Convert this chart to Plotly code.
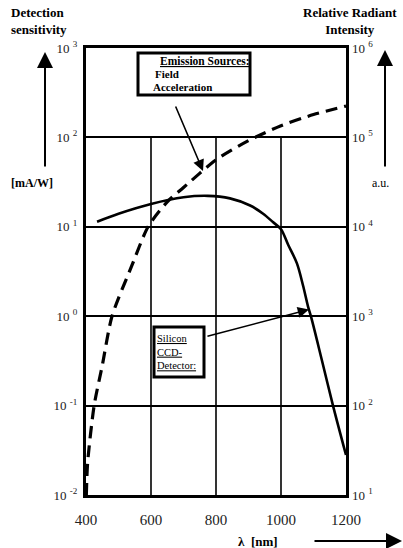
import numpy as np
import plotly.graph_objects as go

# Silicon CCD detector sensitivity [mA/W] vs wavelength [nm]
ccd_wavelength = [434, 500, 600, 700, 775, 843, 905, 945, 975, 1000, 1022, 1049, 1068, 1083,
                  1092, 1126, 1160, 1200]
ccd_sensitivity = [11.4, 14.0, 18.0, 21.4, 22.2, 20.8, 17.3, 14.0, 11.3, 9.4, 6.3, 3.9, 2.19,
                   1.29, 1.0, 0.32, 0.1, 0.028]

# Field-acceleration emission source, relative radiant intensity [a.u.]
emission_wavelength = [401, 405, 425, 450, 480, 540, 591, 650, 700, 800, 900, 1000, 1100, 1200]
emission_intensity = [10, 23, 100, 280, 1000, 3600, 10000, 19000, 27500, 56000, 92000, 135000, 180000, 224000]

# Axis ticks
x_ticks = [400, 600, 800, 1000, 1200]
left_ticks = [1e-2, 1e-1, 1e0, 1e1, 1e2, 1e3]
left_tick_text = ["10 <sup>-2</sup>", "10 <sup>-1</sup>", "10 <sup>0</sup>",
                  "10 <sup>1</sup>", "10 <sup>2</sup>", "10 <sup>3</sup>"]
right_ticks = [1e1, 1e2, 1e3, 1e4, 1e5, 1e6]
right_tick_text = ["10 <sup>1</sup>", "10 <sup>2</sup>", "10 <sup>3</sup>",
                   "10 <sup>4</sup>", "10 <sup>5</sup>", "10 <sup>6</sup>"]

SERIF = "Liberation Serif, Times New Roman, serif"
W, H = 403, 548
PL, PR, PT, PB = 86, 346, 48, 495


def px(x):
    return (x - PL) / (PR - PL)


def py(y):
    return (PB - y) / (PB - PT)


fig = go.Figure()

# vertical grid lines only span the lower part of the frame (10^-2 .. 10^2)
for xv in x_ticks[1:-1]:
    fig.add_trace(go.Scatter(x=[xv, xv], y=[left_ticks[0], left_ticks[-2]], mode="lines",
                             line=dict(color="black", width=1.6), hoverinfo="skip",
                             showlegend=False))

fig.add_trace(go.Scatter(x=ccd_wavelength, y=ccd_sensitivity, mode="lines",
                         line=dict(color="black", width=2.6, shape="spline", smoothing=0.9),
                         showlegend=False, name="Silicon CCD-Detector"))

fig.add_trace(go.Scatter(x=emission_wavelength, y=emission_intensity, mode="lines",
                         line=dict(color="black", width=3.2, dash="12px,7px",
                                   shape="spline", smoothing=0.7),
                         yaxis="y2", showlegend=False, name="Field Acceleration"))

fig.update_layout(
    width=W, height=H,
    margin=dict(l=PL, r=W - PR, t=PT, b=H - PB),
    paper_bgcolor="white", plot_bgcolor="white",
    font=dict(family=SERIF, color="#222222", size=13),
    xaxis=dict(range=[400, 1200], tickvals=x_ticks, showgrid=False, zeroline=False,
               showline=True, mirror=True, linewidth=3, linecolor="black",
               ticks="outside", ticklen=9, tickcolor="rgba(0,0,0,0)",
               tickfont=dict(size=15, family=SERIF, color="#222222")),
    yaxis=dict(type="log", range=[-2, 3], tickvals=left_ticks, ticktext=left_tick_text,
               showgrid=True, gridcolor="black", gridwidth=1.6, zeroline=False,
               showline=True, mirror=True, linewidth=3, linecolor="black",
               ticks="", ticklabelstandoff=3,
               tickfont=dict(size=13, family=SERIF, color="#222222")),
    yaxis2=dict(type="log", range=[1, 6], tickvals=right_ticks, ticktext=right_tick_text,
                overlaying="y", side="right", showgrid=False, zeroline=False,
                showline=False, ticks="", ticklabelstandoff=5,
                tickfont=dict(size=13, family=SERIF, color="#222222")),
)

shapes = []
annotations = []

# text boxes
shapes.append(dict(type="rect", xref="paper", yref="paper",
                   x0=px(138), x1=px(250), y0=py(95), y1=py(53),
                   line=dict(color="black", width=3), fillcolor="white"))
shapes.append(dict(type="rect", xref="paper", yref="paper",
                   x0=px(154), x1=px(204), y0=py(377), y1=py(327),
                   line=dict(color="black", width=3), fillcolor="white"))


def label(text, x, y, size=13, bold=False, xanchor="center", align="center"):
    t = f"<b>{text}</b>" if bold else text
    annotations.append(dict(text=t, xref="paper", yref="paper", x=px(x), y=py(y),
                            xanchor=xanchor, yanchor="middle", showarrow=False, align=align,
                            font=dict(family=SERIF, size=size, color="black")))


label("Detection<br>sensitivity", 9, 21, size=13, bold=True, xanchor="left", align="left")
label("Relative Radiant<br>Intensity", 350, 21, size=13, bold=True)
label("[mA/W]", 32, 183, size=12, bold=True)
label("a.u.", 380, 183, size=12)
label("\u03bb  [nm]", 258, 541, size=13, bold=True)

label("<u>Emission Sources:</u>", 205, 61, size=11.5, bold=True)
label("Field", 153, 74, size=11, bold=True, xanchor="left")
label("Acceleration", 151, 87, size=11, bold=True, xanchor="left")
label("<u>Silicon</u><br><u>CCD-</u><br><u>Detector:</u>", 155, 352, size=10.5,
      xanchor="left", align="left")

# vertical and horizontal direction arrows
for (x0, y0, x1, y1) in [(45, 168, 45, 52), (385, 168, 385, 50), (313, 541, 402, 541)]:
    annotations.append(dict(xref="paper", yref="paper", axref="pixel", ayref="pixel",
                            x=px(x1), y=py(y1), ax=x0 - x1, ay=y0 - y1, text="",
                            showarrow=True, arrowhead=2, arrowsize=1.6, arrowwidth=2,
                            arrowcolor="black"))

# pointer arrows from the boxes to the curves
em_x = 760
em_y = np.interp(em_x, emission_wavelength, np.log10(emission_intensity))
annotations.append(dict(x=em_x, y=em_y, xref="x", yref="y2", ax=-28, ay=-66, text="",
                        showarrow=True, arrowhead=2, arrowsize=1.4, arrowwidth=1.6,
                        arrowcolor="black"))
ccd_x = 1086
ccd_y = np.interp(ccd_x, ccd_wavelength, np.log10(ccd_sensitivity))
annotations.append(dict(x=ccd_x, y=ccd_y, xref="x", yref="y", ax=-103, ay=27, text="",
                        showarrow=True, arrowhead=2, arrowsize=1.4, arrowwidth=1.6,
                        arrowcolor="black"))

fig.update_layout(shapes=shapes, annotations=annotations)
fig.write_html("out.html")
